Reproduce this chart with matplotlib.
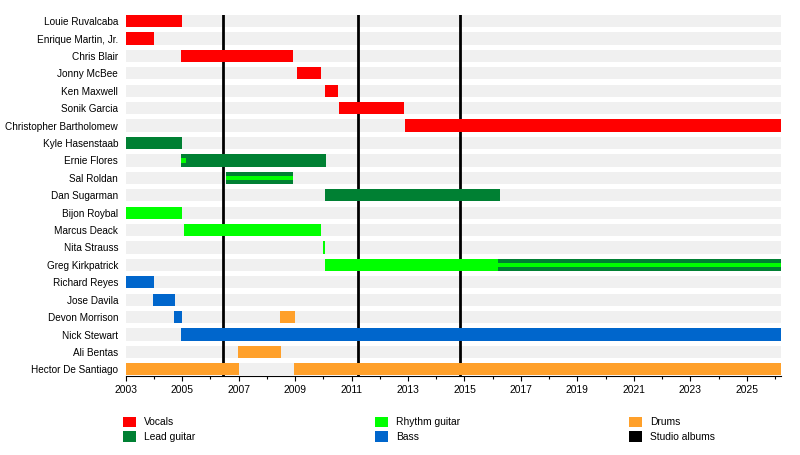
import matplotlib
matplotlib.use("Agg")
import matplotlib.pyplot as plt
from matplotlib.patches import Patch
from matplotlib.ticker import MultipleLocator

plt.rcParams['font.family'] = ['Liberation Sans', 'DejaVu Sans']

END = 2026.2

members = ["Louie Ruvalcaba", "Enrique Martin, Jr.", "Chris Blair", "Jonny McBee",
           "Ken Maxwell", "Sonik Garcia", "Christopher Bartholomew", "Kyle Hasenstaab",
           "Ernie Flores", "Sal Roldan", "Dan Sugarman", "Bijon Roybal", "Marcus Deack",
           "Nita Strauss", "Greg Kirkpatrick", "Richard Reyes", "Jose Davila",
           "Devon Morrison", "Nick Stewart", "Ali Bentas", "Hector De Santiago"]

vocals = [("Louie Ruvalcaba", 2003.0, 2005.0),
          ("Enrique Martin, Jr.", 2003.0, 2004.0),
          ("Chris Blair", 2004.97, 2008.93),
          ("Jonny McBee", 2009.05, 2009.93),
          ("Ken Maxwell", 2010.07, 2010.53),
          ("Sonik Garcia", 2010.56, 2012.87),
          ("Christopher Bartholomew", 2012.9, END)]

lead_guitar = [("Kyle Hasenstaab", 2003.0, 2005.0),
               ("Ernie Flores", 2004.97, 2010.1),
               ("Sal Roldan", 2006.56, 2008.93),
               ("Dan Sugarman", 2010.07, 2016.24),
               ("Greg Kirkpatrick", 2016.2, END)]

rhythm_guitar = [("Bijon Roybal", 2003.0, 2005.0),
                 ("Marcus Deack", 2005.07, 2009.93),
                 ("Nita Strauss", 2009.99, 2010.05),
                 ("Greg Kirkpatrick", 2010.07, 2016.2)]

# thin rhythm-guitar stripes drawn over lead-guitar bars
rhythm_overlay = [("Ernie Flores", 2004.97, 2005.14),
                  ("Sal Roldan", 2006.56, 2008.93),
                  ("Greg Kirkpatrick", 2016.2, END)]

bass = [("Richard Reyes", 2003.0, 2004.0),
        ("Jose Davila", 2003.97, 2004.75),
        ("Devon Morrison", 2004.72, 2005.0),
        ("Nick Stewart", 2004.97, END)]

drums = [("Devon Morrison", 2008.47, 2009.0),
         ("Ali Bentas", 2006.98, 2008.5),
         ("Hector De Santiago", 2003.0, 2007.0),
         ("Hector De Santiago", 2008.97, END)]

studio_albums = [2006.46, 2011.23, 2014.83]

colors = {"Vocals": "#FF0000", "Lead guitar": "#008033", "Rhythm guitar": "#00FF00",
          "Bass": "#0066CC", "Drums": "#FFA02A", "Studio albums": "#000000"}

fig = plt.figure(figsize=(8.0, 4.55), dpi=100)
ax = fig.add_axes([125.7 / 800, 1 - 375.5 / 455, (780.7 - 125.7) / 800, (375.5 - 15) / 455])

row = {m: i for i, m in enumerate(members)}
H = 0.7

# background stripes
ax.barh(range(len(members)), END - 2003.0, left=2003.0, height=H,
        color="#F0F0F0", zorder=1)

for x in studio_albums:
    ax.axvline(x, ymin=H / 2 / (len(members) - 1 + H) * 0 + 0.0, color="black", lw=2.0, zorder=2)

def draw(periods, color, h=H, z=3):
    for m, s, e in periods:
        ax.barh(row[m], e - s, left=s, height=h, color=color, zorder=z, linewidth=0)

draw(vocals, colors["Vocals"])
draw(lead_guitar, colors["Lead guitar"])
draw(rhythm_guitar, colors["Rhythm guitar"])
draw(bass, colors["Bass"])
draw(drums, colors["Drums"])
draw(rhythm_overlay, colors["Rhythm guitar"], h=0.26, z=4)

ax.set_xlim(2003.0, END)
ax.set_ylim(len(members) - 1 + H / 2, -H / 2)
ax.set_yticks(range(len(members)))
ax.set_yticklabels(members, fontsize=7.2)
ax.tick_params(axis="y", length=0, pad=5.5)

ax.xaxis.set_major_locator(MultipleLocator(2, offset=1))
ax.xaxis.set_minor_locator(MultipleLocator(1))
ax.xaxis.set_major_formatter(plt.FuncFormatter(lambda v, p: f"{int(round(v))}"))
ax.tick_params(axis="x", which="major", length=3.6, width=0.8, labelsize=7.4, pad=3.5)
ax.tick_params(axis="x", which="minor", length=2.2, width=0.8)

for side in ("top", "right", "left"):
    ax.spines[side].set_visible(False)
ax.spines["bottom"].set_linewidth(0.8)
ax.spines["bottom"].set_zorder(5)

legend_items = ["Vocals", "Lead guitar", "Rhythm guitar", "Bass", "Drums", "Studio albums"]
col_x = [122.7, 375.0, 629.3]
for c in range(3):
    handles = [Patch(facecolor=colors[n], edgecolor="none", label=n)
               for n in legend_items[2 * c: 2 * c + 2]]
    fig.legend(handles=handles, loc="upper left",
               bbox_to_anchor=(col_x[c] / 800, 1 - 416.5 / 455),
               frameon=False, fontsize=7.4, handlelength=1.25, handleheight=1.25,
               handletextpad=0.8, labelspacing=0.35, borderpad=0, borderaxespad=0)

fig.savefig("out.png", dpi=100)
